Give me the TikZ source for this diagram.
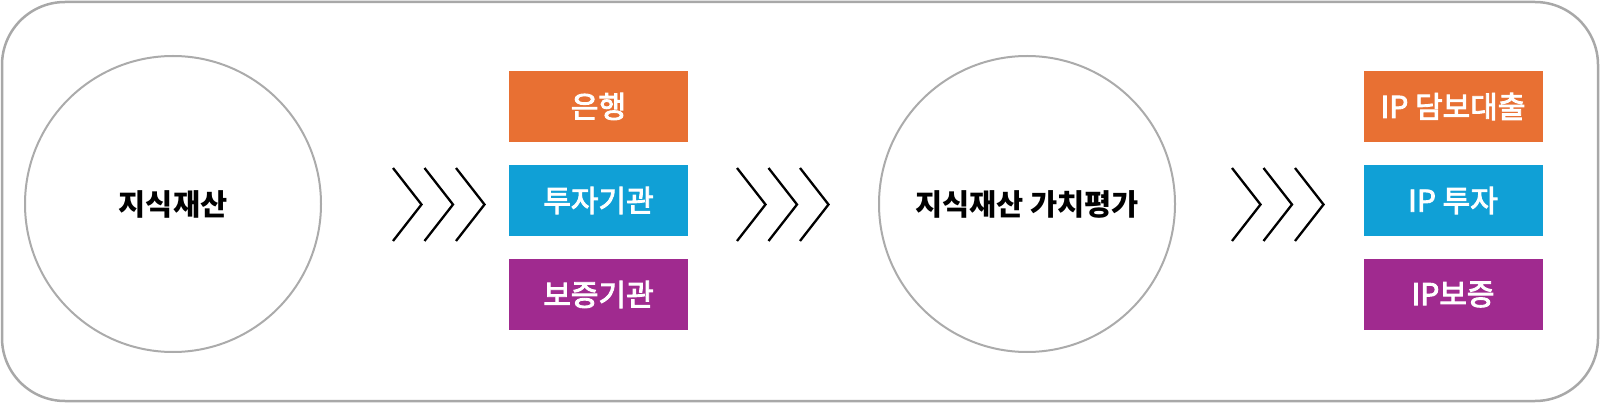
\documentclass[tikz,border=0pt]{standalone}
\usepackage{fontspec}
\setmainfont{Noto Sans CJK KR}
\newfontfamily\boxfont[FakeBold=3]{Noto Sans CJK KR}
\definecolor{frameGray}{HTML}{A8A8A8}
\definecolor{circGray}{HTML}{ABABAB}
\definecolor{boxOrange}{HTML}{E87033}
\definecolor{boxBlue}{HTML}{10A0D6}
\definecolor{boxPurple}{HTML}{A02A8F}
\tikzset{
  frame/.style={draw=frameGray, line width=2.5pt, rounded corners=63pt},
  bigcircle/.style={circle, draw=circGray, line width=2pt, minimum size=296pt, inner sep=0pt,
    font=\fontsize{29.5pt}{31pt}\selectfont\bfseries, text=black},
  colbox/.style={rectangle, minimum width=179pt, minimum height=71.5pt, inner sep=0pt,
    font=\fontsize{30pt}{32pt}\boxfont, text=white},
  chevron/.style={draw=black, line width=2.3pt, line cap=butt, line join=miter}
}
\begin{document}
\begin{tikzpicture}[x=1pt, y=-1pt]
\useasboundingbox (0,0) rectangle (1600,403);
\draw[frame] (2,2) rectangle (1598,401);

\node[bigcircle] (ip) at (173,204) {지식재산};
\node[bigcircle] (val) at (1027,204) {지식재산 가치평가};

\node[colbox, fill=boxOrange] (bank) at (598.5,106.5) {은행};
\node[colbox, fill=boxBlue] (inv) at (598.5,200.5) {투자기관};
\node[colbox, fill=boxPurple] (guar) at (598.5,294.5) {보증기관};

\node[colbox, fill=boxOrange] (loan) at (1453,106.5) {IP 담보대출};
\node[colbox, fill=boxBlue] (ipinv) at (1453,200.5) {IP 투자};
\node[colbox, fill=boxPurple] (ipguar) at (1453,294.5) {IP보증};

% chevron groups
\foreach \gx in {393,737,1232}{
  \foreach \k in {0,1,2}{
    \draw[chevron] ({\gx+31.5*\k},168) -- ({\gx+31.5*\k+28.5},204.5) -- ({\gx+31.5*\k},241);
  }
}
\end{tikzpicture}
\end{document}
